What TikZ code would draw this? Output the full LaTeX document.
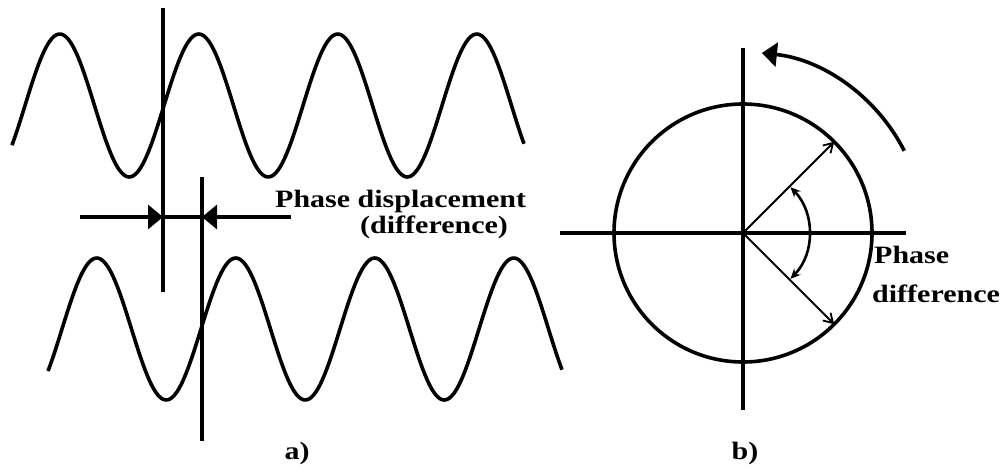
\documentclass[tikz,border=0pt]{standalone}
\usepackage{fontspec}
\usepackage{graphicx}
\setmainfont{Liberation Serif}
\usetikzlibrary{arrows.meta,calc}
\newcommand{\wtxt}[1]{\scalebox{1.2}[1]{#1}}
\begin{document}
\begin{tikzpicture}[x=1pt,y=-1pt,
  wave/.style={line width=3.6pt, line join=round},
  axis/.style={line width=3.2pt},
  rline/.style={line width=2pt},
  bigtip/.style={-{Triangle[length=15pt,width=24pt]}},
  smalltip/.style={-{Straight Barb[length=9pt,width=11pt,line width=1.8pt]}},
  lbl/.style={font=\fontsize{25}{30}\selectfont\bfseries, inner sep=0pt}]
\useasboundingbox (0,0) rectangle (1003,471);

% ---------- a) ----------
\draw[wave] plot[domain=12:524, samples=220, smooth] (\x, {105.5-71.5*sin(2.58993*(\x-25))});
\draw[wave] plot[domain=48:562, samples=220, smooth] (\x, {329-71*sin(2.58993*(\x-62))});

\coordinate (v1t) at (163,8);
\coordinate (v1b) at (163,292);
\coordinate (v2t) at (202,177);
\coordinate (v2b) at (202,441);
\draw[axis] (v1t) -- (v1b);
\draw[axis] (v2t) -- (v2b);

\coordinate (hl) at (80,217);
\coordinate (hp1) at (163,217);
\coordinate (hp2) at (202,217);
\coordinate (hr) at (291,217);
\draw[axis, bigtip] (hl) -- (hp1);
\draw[axis] (hp1) -- (hp2);
\draw[axis, bigtip] (hr) -- (hp2);

\node[lbl, anchor=base west] (t1) at (275,207) {\wtxt{Phase displacement}};
\node[lbl, anchor=base west] (t2) at (360,233) {\wtxt{(difference)}};
\node[lbl] (ta) at (297,453) {\wtxt{a)}};

% ---------- b) ----------
\coordinate (O) at (743,233);
\draw[wave] (O) circle[radius=129];
\coordinate (vt) at (743,48);
\coordinate (vb) at (743,410);
\coordinate (hl2) at (560,233);
\coordinate (hr2) at (906,233);
\draw[axis] (vt) -- (vb);
\draw[axis] (hl2) -- (hr2);

\coordinate (pu) at ($(O)+(-45:129)$);
\coordinate (pd) at ($(O)+(45:129)$);
\draw[rline, smalltip] (O) -- (pu);
\draw[rline, smalltip] (O) -- (pd);

\coordinate (ia) at ($(O)+(-44:66)$);
\draw[line width=2.6pt, {Stealth[length=10pt,width=9pt]}-{Stealth[length=10pt,width=9pt]}] (ia) arc[start angle=-44, end angle=44, radius=66];

\coordinate (ba) at ($(O)+(-27:181)$);
\draw[wave, bigtip] (ba) arc[start angle=-27, end angle=-84, radius=181];

\node[lbl, anchor=base west] (t3) at (874,263) {\wtxt{Phase}};
\node[lbl, anchor=base west] (t4) at (872,302) {\wtxt{difference}};
\node[lbl] (tb) at (745,453) {\wtxt{b)}};
\end{tikzpicture}
\end{document}
